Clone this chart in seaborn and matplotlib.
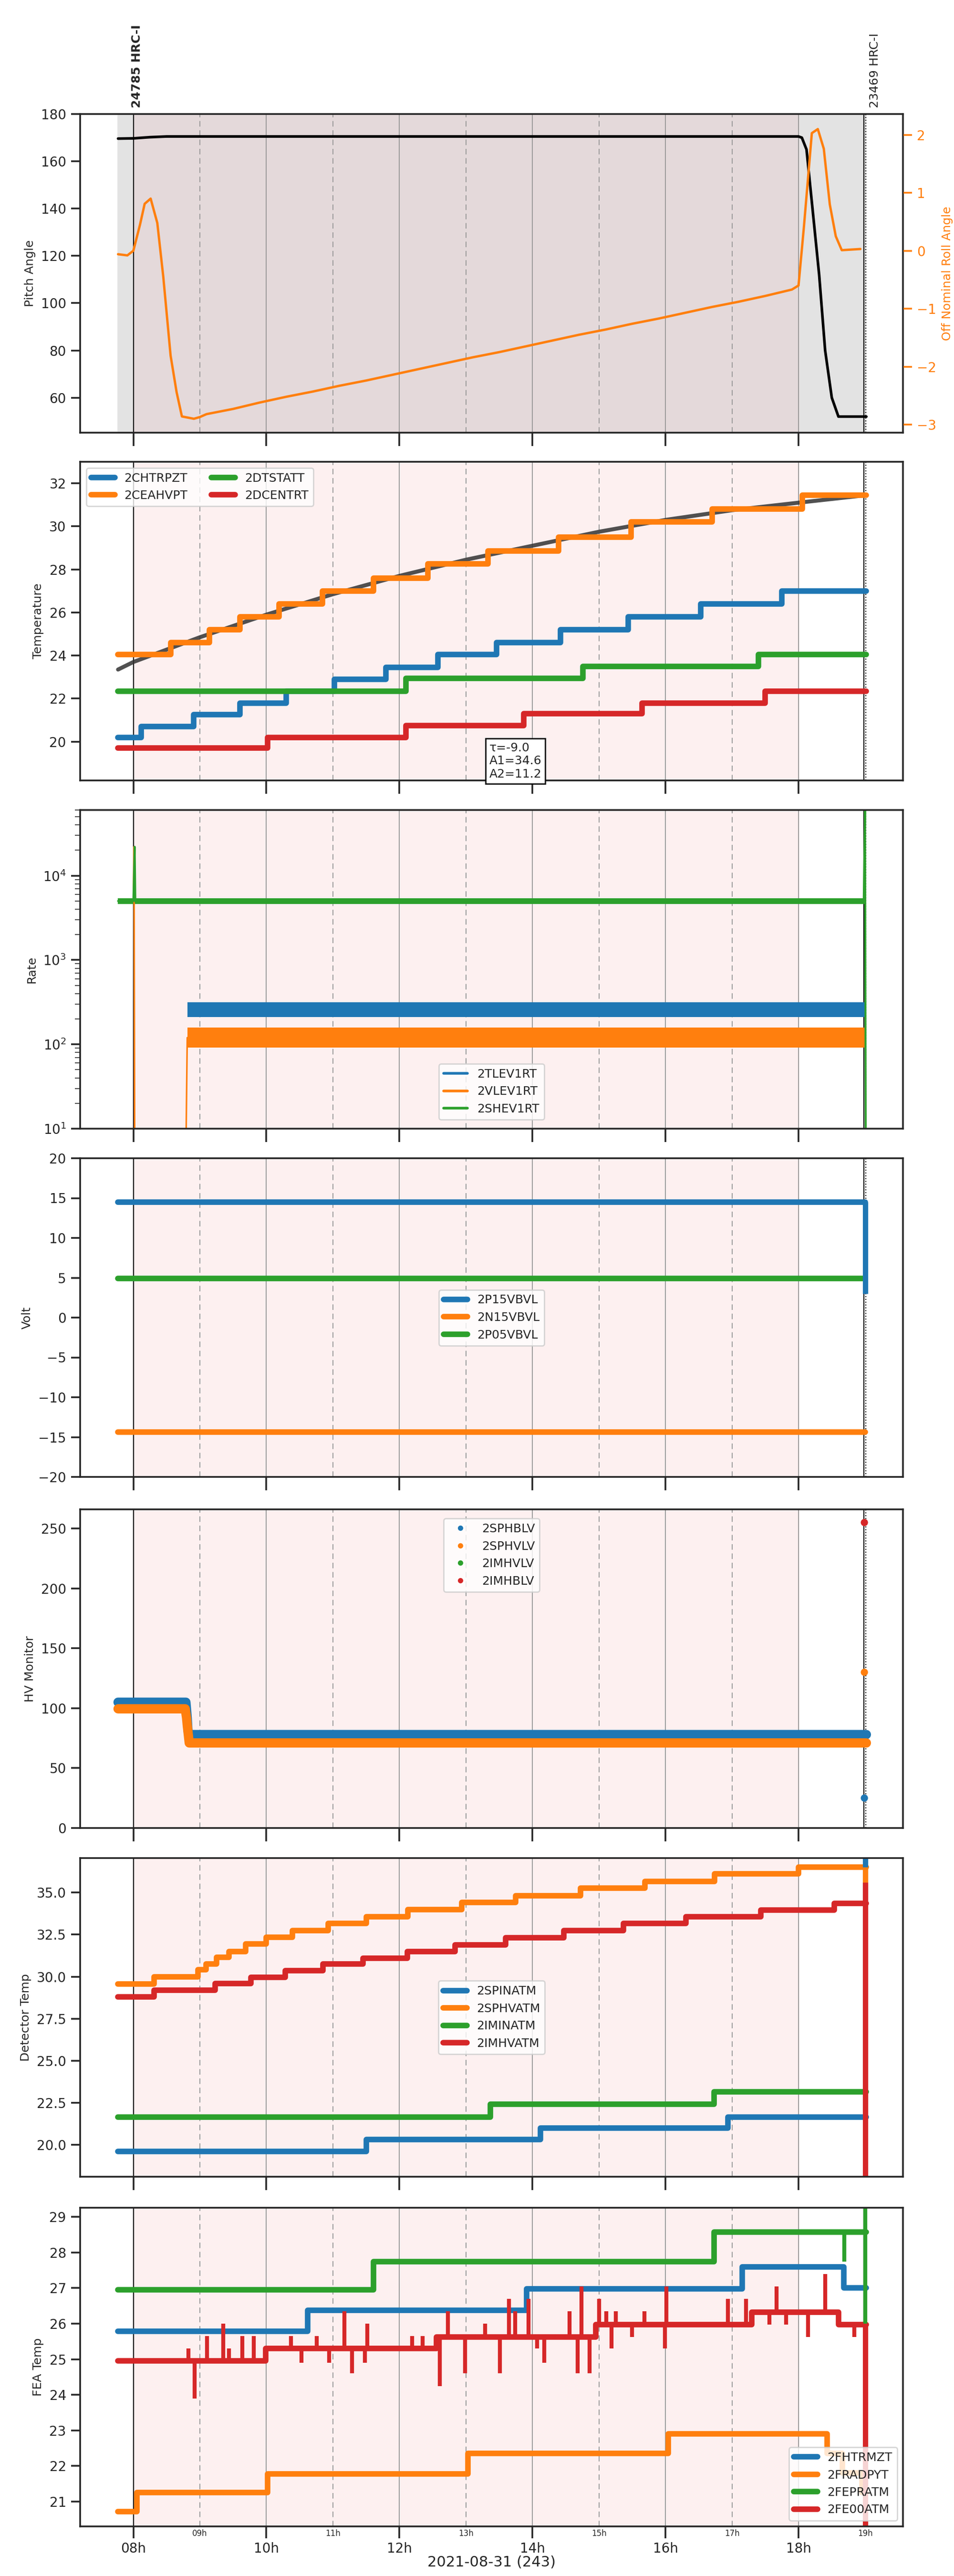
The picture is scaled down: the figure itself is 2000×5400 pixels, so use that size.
import numpy as np
import pandas as pd
import matplotlib
matplotlib.use("Agg")
import matplotlib.pyplot as plt
import seaborn as sns
from matplotlib.lines import Line2D

sns.set_style("ticks")
plt.rcParams['font.family'] = ['DejaVu Sans']

T0, T1 = 7.77, 19.02
XLIM = (7.2, 19.57)
C = sns.color_palette("tab10")

# ---- panel 1: pitch / roll
pitch_h = [7.77, 8.0, 8.25, 8.5, 18.0, 18.05, 18.12, 18.21, 18.31, 18.4, 18.5, 18.6, 19.02]
pitch_v = [169.6, 169.7, 170.2, 170.5, 170.5, 170.0, 165, 140, 112, 80, 60, 52, 52]
roll_h = [7.77, 7.91, 8.0, 8.1, 8.17, 8.26, 8.36, 8.45, 8.56, 8.65, 8.73, 8.91, 9.0, 9.1,
          9.5, 9.9, 10.3, 10.7, 11.1, 11.5, 11.9, 12.3, 12.7, 13.1, 13.5, 13.9, 14.3, 14.7,
          15.1, 15.5, 15.9, 16.3, 16.7, 17.1, 17.5, 17.9, 18.0, 18.08, 18.2, 18.29, 18.38,
          18.47, 18.56, 18.65, 18.93]
roll_v = [-0.06, -0.08, 0.0, 0.45, 0.81, 0.9, 0.48, -0.45, -1.81, -2.44, -2.86, -2.9, -2.87, -2.82,
          -2.73, -2.62, -2.52, -2.43, -2.33, -2.24, -2.14, -2.04, -1.94, -1.84, -1.75, -1.65, -1.55, -1.45,
          -1.36, -1.26, -1.17, -1.07, -0.97, -0.88, -0.78, -0.67, -0.6, 0.4, 2.03, 2.1, 1.76,
          0.8, 0.25, 0.01, 0.03]

# ---- panel 2: temperature
chtr_h = [7.77, 8.12, 8.91, 9.6, 10.3, 11.02, 11.8, 12.58, 13.46, 14.42, 15.44, 16.53, 17.75]
chtr_v = [20.2, 20.7, 21.25, 21.8, 22.35, 22.9, 23.45, 24.05, 24.6, 25.2, 25.8, 26.4, 27.0]
ceah_h = [7.77, 8.56, 9.14, 9.6, 10.19, 10.84, 11.61, 12.43, 13.33, 14.39, 15.48, 16.7, 18.06]
ceah_v = [24.05, 24.6, 25.2, 25.8, 26.4, 27.0, 27.6, 28.25, 28.85, 29.5, 30.2, 30.8, 31.45]
dtst_h = [7.77, 12.1, 14.76, 17.4]
dtst_v = [22.35, 22.95, 23.5, 24.05]
dcen_h = [7.77, 10.02, 12.1, 13.87, 15.65, 17.5]
dcen_v = [19.7, 20.2, 20.75, 21.3, 21.8, 22.35]
fit_h = [7.77, 8.0, 9.0, 10.0, 11.0, 12.0, 13.0, 14.0, 15.0, 16.0, 17.0, 18.0, 19.02]
fit_v = [23.35, 23.7, 24.85, 25.9, 26.85, 27.7, 28.45, 29.1, 29.75, 30.3, 30.75, 31.1, 31.45]

# ---- panel 3: rates (envelopes)
rate_h = [8.81, 19.0]
tlev_lo, tlev_hi = [210, 210], [315, 315]
vlev_lo, vlev_hi = [92, 92], [158, 158]
shev_h = [7.77, 8.0, 8.02, 8.03, 18.98, 19.0, 19.01]
shev_v = [5000, 5000, 22000, 4900, 4900, 60000, 10]
vlev_pre_h = [8.0, 8.01, 8.02, 8.79, 8.81]
vlev_pre_v = [5000, 22000, 5, 5, 120]

# ---- panel 4: volts
volt_h = [7.77, 19.0]
p15_v = [14.5, 14.5]
n15_v = [-14.4, -14.4]
p05_v = [4.9, 4.9]

# ---- panel 5: HV monitor
sphb_h = [7.77, 8.79, 8.81, 8.82, 8.83, 19.02]
sphb_v = [105, 105, 92, 82, 78, 78]
sphv_h = [7.77, 8.78, 8.8, 8.81, 8.82, 8.83, 8.84, 19.02]
sphv_v = [99.5, 99.5, 92, 86, 81, 76, 71, 71]
end_pts_h = [18.99, 18.99, 18.99]
end_pts_v = [25, 130, 255]

# ---- panel 6: detector temp
spin_h = [7.77, 11.5, 14.12, 16.94]
spin_v = [19.6, 20.3, 21.0, 21.65]
sphvat_h = [7.77, 8.31, 8.97, 9.09, 9.25, 9.44, 9.69, 10.0, 10.39, 10.93, 11.5, 12.13, 12.94, 13.75, 14.72, 15.69, 16.74, 18.0]
sphvat_v = [29.55, 30.0, 30.4, 30.75, 31.15, 31.5, 31.95, 32.35, 32.75, 33.15, 33.55, 34.0, 34.4, 34.8, 35.25, 35.65, 36.1, 36.5]
imin_h = [7.77, 13.37, 16.73]
imin_v = [21.65, 22.4, 23.15]
imhv_h = [7.77, 8.31, 9.23, 9.77, 10.28, 10.85, 11.45, 12.12, 12.84, 13.6, 14.47, 15.37, 16.31, 17.43, 18.54]
imhv_v = [28.8, 29.2, 29.6, 29.95, 30.35, 30.75, 31.1, 31.5, 31.9, 32.3, 32.75, 33.15, 33.55, 33.95, 34.35]

# ---- panel 7: FEA temp
fhtr_h = [7.77, 10.62, 13.91, 17.15, 18.68]
fhtr_v = [25.78, 26.38, 26.98, 27.6, 27.0]
frad_h = [7.77, 8.05, 10.02, 13.03, 16.04, 18.43, 18.66, 18.95]
frad_v = [20.72, 21.25, 21.78, 22.35, 22.9, 22.35, 21.8, 21.25]
fepr_h = [7.77, 11.61, 16.73]
fepr_v = [26.95, 27.75, 28.58]
fe00_h = [7.77, 9.99, 12.56, 14.95, 17.3, 18.6]
fe00_v = [24.95, 25.3, 25.62, 25.97, 26.32, 25.97]
spike_h = [8.83, 8.92, 9.11, 9.35, 9.44, 9.64, 9.81, 10.37, 10.53, 10.76, 10.94, 11.17, 11.29, 11.48,
           11.52, 12.19, 12.35, 12.61, 12.73, 12.99, 13.29, 13.51, 13.65, 13.74, 13.94, 14.07, 14.18,
           14.56, 14.68, 14.74, 14.86, 15.0, 15.11, 15.19, 15.25, 15.5, 15.68, 15.99, 16.01, 16.94,
           17.21, 17.56, 17.67, 17.81, 18.14, 18.4, 18.84]
spike_v = [25.3, 23.9, 25.65, 26.0, 25.3, 25.65, 25.65, 25.65, 24.9, 25.65, 24.9, 26.35, 24.6, 24.9,
           26.0, 25.65, 25.65, 24.25, 26.35, 24.6, 26.0, 24.6, 26.7, 26.35, 26.7, 25.3, 24.9,
           26.35, 24.6, 27.05, 24.6, 26.7, 26.35, 25.3, 26.35, 25.62, 26.35, 25.3, 27.05, 26.7,
           26.7, 25.97, 27.05, 25.97, 25.62, 27.4, 25.62]

major_h = [8, 10, 12, 14, 16, 18]
major_lab = ["08h", "10h", "12h", "14h", "16h", "18h"]
minor_h = [9, 11, 13, 15, 17, 19]
minor_lab = ["09h", "11h", "13h", "15h", "17h", "19h"]

W, H = 2000, 5400
fig = plt.figure(figsize=(10, 27), dpi=200)
tops = [239, 968, 1698, 2428, 3164, 3895, 4628]
PH = 668
L, R = 168, 1893
axes = []
for t in tops:
    ax = fig.add_axes([L / W, 1 - (t + PH) / H, (R - L) / W, PH / H])
    axes.append(ax)


def step(ax, hs, vs, color, label=None, lw=4.2, end=T1, **kw):
    x = list(hs) + [end]
    y = list(vs) + [vs[-1]]
    sns.lineplot(x=x, y=y, ax=ax, color=color, lw=lw, drawstyle='steps-post',
                 estimator=None, sort=False, label=label, legend=False, **kw)


def decorate(ax, top=False):
    if top:
        ax.axvspan(T0, 19.0, color='#e3e3e3', zorder=0)
        ax.axvspan(8.0, 18.0, color='#e4d9da', zorder=0)
    else:
        ax.axvspan(8.0, 18.0, color='#fdf0f0', zorder=0)
    for h in [10, 12, 14, 16, 18]:
        ax.axvline(h, color='#999999', lw=0.7, zorder=0.5)
    for h in [9, 11, 13, 15, 17]:
        ax.axvline(h, color='#999999', lw=0.7, ls='--', dashes=(6, 4), zorder=0.5)
    ax.axvline(8.0, color='black', lw=0.8, zorder=0.6)
    ax.axvline(18.98, color='black', lw=0.8, zorder=0.6)
    ax.axvline(19.01, color='black', lw=0.8, ls=':', zorder=0.6)
    ax.set_xlim(*XLIM)
    ax.set_xticks(major_h)
    ax.set_xticks(minor_h, minor=True)
    ax.set_xticklabels([])
    ax.tick_params(axis='x', which='major', length=10, width=1.3, direction='out')
    ax.tick_params(axis='x', which='minor', length=0)
    ax.tick_params(axis='y', which='major', length=7, width=1.3, labelsize=10)
    for s in ax.spines.values():
        s.set_linewidth(1.3)
    ax.set_xlabel("")


# Panel 1
ax = axes[0]
decorate(ax, top=True)
sns.lineplot(x=pitch_h, y=pitch_v, ax=ax, color='black', lw=2, estimator=None, sort=False)
ax.set_ylim(45.2, 180)
ax.set_ylabel("Pitch Angle", fontsize=9)
ax2 = ax.twinx()
sns.lineplot(x=roll_h, y=roll_v, ax=ax2, color=C[1], lw=1.8, estimator=None, sort=False)
ax2.set_ylim(-3.14, 2.36)
ax2.set_ylabel("Off Nominal Roll Angle", color=C[1], fontsize=9)
ax2.tick_params(axis='y', colors=C[1], labelsize=10, length=7, width=1.3)
ax2.set_xlim(*XLIM)
ax.text(8.05, 1.02, "24785 HRC-I", transform=ax.get_xaxis_transform(), rotation=90,
        fontsize=9, fontweight='bold', ha='center', va='bottom')
ax.text(19.15, 1.02, "23469 HRC-I", transform=ax.get_xaxis_transform(), rotation=90,
        fontsize=9, ha='center', va='bottom')

# Panel 2
ax = axes[1]
decorate(ax)
sns.lineplot(x=fit_h, y=fit_v, ax=ax, color='#333333', lw=3, alpha=0.85, estimator=None, sort=False)
step(ax, chtr_h, chtr_v, C[0], "2CHTRPZT")
step(ax, ceah_h, ceah_v, C[1], "2CEAHVPT")
step(ax, dtst_h, dtst_v, C[2], "2DTSTATT")
step(ax, dcen_h, dcen_v, C[3], "2DCENTRT")
ax.set_ylim(18.2, 33)
ax.set_ylabel("Temperature", fontsize=9)
ax.legend(loc='upper left', ncol=2, fontsize=9)
ax.text(13.35, 19.1, "τ=-9.0\nA1=34.6\nA2=11.2", fontsize=9, va='center', ha='left',
        bbox=dict(boxstyle='square', fc='white', ec='black'), clip_on=False, zorder=10)

# Panel 3
ax = axes[2]
decorate(ax)
ax.set_yscale('log')
ax.fill_between(rate_h, tlev_lo, tlev_hi, color=C[0], lw=0)
ax.fill_between(rate_h, vlev_lo, vlev_hi, color=C[1], lw=0)
sns.lineplot(x=vlev_pre_h, y=vlev_pre_v, ax=ax, color=C[1], lw=1.2, estimator=None, sort=False)
sns.lineplot(x=shev_h, y=shev_v, ax=ax, color=C[2], lw=1.5, estimator=None, sort=False)
ax.fill_between([7.77, 19.0], [4600, 4600], [5400, 5400], color=C[2], lw=0)
ax.set_ylim(10, 6e4)
ax.set_ylabel("Rate", fontsize=9)
ax.legend(handles=[Line2D([], [], color=C[i], lw=2) for i in range(3)],
          labels=["2TLEV1RT", "2VLEV1RT", "2SHEV1RT"], loc='lower center',
          bbox_to_anchor=(0.5, 0.01), fontsize=9)
ax.tick_params(axis='y', which='minor', length=4)

# Panel 4
ax = axes[3]
decorate(ax)
step(ax, volt_h, p15_v, C[0], "2P15VBVL", end=19.0)
step(ax, volt_h, n15_v, C[1], "2N15VBVL", end=19.0)
step(ax, volt_h, p05_v, C[2], "2P05VBVL", end=19.0)
ax.vlines(19.0, 3, 14.5, color=C[0], lw=4)
ax.set_ylim(-20, 20)
ax.set_yticks(range(-20, 21, 5))
ax.set_ylabel("Volt", fontsize=9)
ax.legend(loc='center', fontsize=9)

# Panel 5
ax = axes[4]
decorate(ax)
sns.lineplot(x=sphb_h, y=sphb_v, ax=ax, color=C[0], lw=7, estimator=None, sort=False,
             solid_capstyle='round')
sns.lineplot(x=sphv_h, y=sphv_v, ax=ax, color=C[1], lw=7, estimator=None, sort=False,
             solid_capstyle='round')
sns.scatterplot(x=end_pts_h, y=end_pts_v, ax=ax, hue=["b", "o", "r"],
                palette=[C[0], C[1], C[3]], s=30, legend=False, edgecolor='none')
ax.set_ylim(0, 266)
ax.set_ylabel("HV Monitor", fontsize=9)
ax.legend(handles=[Line2D([], [], color=C[i], marker='o', ls='', ms=3) for i in range(4)],
          labels=["2SPHBLV", "2SPHVLV", "2IMHVLV", "2IMHBLV"], loc='upper center',
          bbox_to_anchor=(0.5, 0.99), fontsize=9)

# Panel 6
ax = axes[5]
decorate(ax)
step(ax, spin_h, spin_v, C[0], "2SPINATM")
step(ax, sphvat_h, sphvat_v, C[1], "2SPHVATM")
step(ax, imin_h, imin_v, C[2], "2IMINATM")
step(ax, imhv_h, imhv_v, C[3], "2IMHVATM")
ax.vlines(19.0, 21.65, 37.5, color=C[0], lw=4)
ax.vlines(19.0, 34.5, 36.5, color=C[1], lw=4)
ax.vlines(19.0, 17.5, 35.6, color=C[3], lw=4)
ax.set_ylim(18.1, 37.05)
ax.set_yticks([20.0, 22.5, 25.0, 27.5, 30.0, 32.5, 35.0])
ax.set_yticklabels(["20.0", "22.5", "25.0", "27.5", "30.0", "32.5", "35.0"])
ax.set_ylabel("Detector Temp", fontsize=9)
ax.legend(loc='center', fontsize=9)

# Panel 7
ax = axes[6]
decorate(ax)
step(ax, fhtr_h, fhtr_v, C[0], "2FHTRMZT")
step(ax, frad_h, frad_v, C[1], "2FRADPYT")
step(ax, fepr_h, fepr_v, C[2], "2FEPRATM")
step(ax, fe00_h, fe00_v, C[3], "2FE00ATM")
base = [fe00_v[np.searchsorted(fe00_h, h, side='right') - 1] for h in spike_h]
ax.vlines(spike_h, base, spike_v, color=C[3], lw=3)
ax.vlines(18.69, 27.75, 28.58, color=C[2], lw=3)
ax.vlines(19.0, 26.0, 29.5, color=C[2], lw=3)
ax.vlines(19.0, 20.0, 25.97, color=C[3], lw=4)
ax.set_ylim(20.3, 29.26)
ax.set_ylabel("FEA Temp", fontsize=9)
ax.legend(loc='lower right', fontsize=9)
ax.set_xticks(major_h)
ax.set_xticklabels(major_lab, fontsize=10)
ax.set_xticks(minor_h, minor=True)
ax.set_xticklabels(minor_lab, minor=True, fontsize=6)
ax.tick_params(axis='x', which='minor', length=0, pad=2)
ax.tick_params(axis='x', which='major', length=9, pad=3)
ax.set_xlabel("2021-08-31 (243)", fontsize=11, labelpad=0)

fig.savefig("out.png", dpi=200)
